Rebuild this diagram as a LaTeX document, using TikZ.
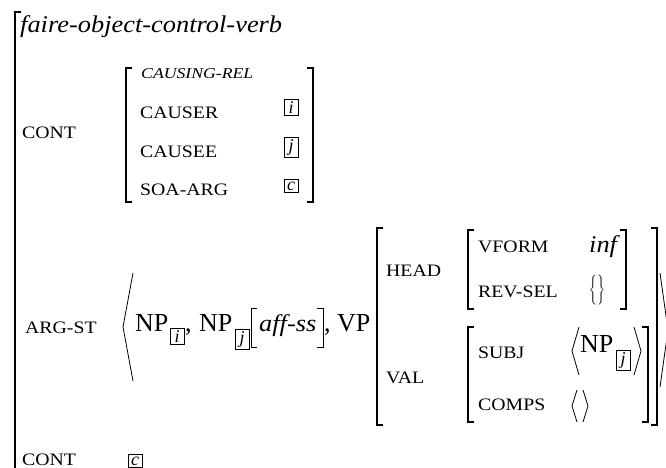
\documentclass[tikz,border=0pt]{standalone}
\usepackage{fontspec}
\setmainfont{Liberation Serif}
\newfontfamily\lblfont[FakeStretch=1.13]{Liberation Serif}
\newfontfamily\lblitfont[FakeStretch=1.18]{Liberation Serif Italic}
\newfontfamily\bigitfont[FakeStretch=1.1]{Liberation Serif Italic}
\begin{document}
\begin{tikzpicture}[x=1pt,y=-1pt,
  lbl/.style={anchor=base west,inner sep=0,font=\fontsize{17.5}{18}\lblfont},
  lblit/.style={anchor=base west,inner sep=0,font=\fontsize{15}{16}\lblitfont},
  big/.style={anchor=base west,inner sep=0,font=\fontsize{26}{28}\selectfont},
  ital/.style={anchor=base west,inner sep=0,font=\fontsize{24}{26}\bigitfont},
  tagb/.style={draw,line width=0.6pt,anchor=base,inner sep=2.2pt,minimum width=14pt,font=\fontsize{18}{18}\itshape},
  brk/.style={line width=1.5pt},
  obrk/.style={line width=1.8pt},
  ang/.style={line width=0.8pt}]
\useasboundingbox (0,0) rectangle (666,467);
\clip (0,0) rectangle (666,467);
% outer bracket
\draw[obrk] (21,12) -- (15,12) -- (15,475);
\node[ital] (type) at (20,32) {faire-object-control-verb};
\node[lbl] (cont1) at (22,138) {CONT};
% CONT value
\draw[brk] (132,68) -- (126,68) -- (126,202) -- (132,202);
\draw[brk] (307,68) -- (313,68) -- (313,202) -- (307,202);
\node[lblit] (rel) at (141,78) {CAUSING-REL};
\node[lbl] (causer) at (140,118) {CAUSER};
\node[lbl] (causee) at (140,157) {CAUSEE};
\node[lbl] (soa) at (140,195) {SOA-ARG};
\node[tagb] (ti) at (291,113) {i};
\node[tagb] (tj) at (291,151) {j};
\node[tagb] (tc) at (291,190) {c};
% ARG-ST
\node[lbl] (argst) at (25,333) {ARG-ST};
\draw[ang] (133,273) -- (123,327) -- (133,381);
\node[big] (np1) at (135,331) {NP};
\node[tagb] (si) at (177,342) {i};
\node[big] (c1) at (185,331) {,};
\node[big] (np2) at (199,331) {NP};
\node[tagb] (sj) at (242,343) {j};
\draw[line width=1pt] (257,308) -- (251,308) -- (251,347) -- (257,347);
\node[ital] (aff) at (259,331) {aff-ss};
\draw[line width=1pt] (317,308) -- (323,308) -- (323,347) -- (317,347);
\node[big] (c2) at (324,331) {,};
\node[big] (vp) at (337,331) {VP};
% VP AVM
\draw[obrk] (383,228) -- (377,228) -- (377,425) -- (383,425);
\draw[obrk] (651,228) -- (657,228) -- (657,425) -- (651,425);
\node[lbl] (head) at (386,276) {HEAD};
\node[lbl] (val) at (386,383) {VAL};
\draw[brk] (474,230) -- (468,230) -- (468,309) -- (474,309);
\draw[brk] (620,230) -- (626,230) -- (626,309) -- (620,309);
\node[lbl] (vform) at (478,252) {VFORM};
\node[ital] (inf) at (589,252) {inf};
\node[lbl] (revsel) at (478,297) {REV-SEL};
\node[anchor=center,inner sep=0,font=\fontsize{12}{14}\selectfont] (set) at (597,290) {$\Bigg\{\Bigg\}$};
\draw[brk] (474,327) -- (468,327) -- (468,422) -- (474,422);
\draw[brk] (642,327) -- (648,327) -- (648,422) -- (642,422);
\node[lbl] (subj) at (478,358) {SUBJ};
\draw[ang] (579,327) -- (572,351) -- (579,375);
\node[big] (np3) at (580,352) {NP};
\node[tagb] (sj2) at (623,364) {j};
\draw[ang] (634,327) -- (641,351) -- (634,375);
\node[lbl] (comps) at (478,410) {COMPS};
\draw[ang] (577,390) -- (572,406) -- (577,422);
\draw[ang] (583,390) -- (588,406) -- (583,422);
% closing angle of ARG-ST
\draw[ang] (660,273) -- (668,330) -- (660,387);
% bottom CONT
\node[lbl] (cont2) at (22,465) {CONT};
\node[tagb] (tc2) at (135,465) {c};
\end{tikzpicture}
\end{document}
